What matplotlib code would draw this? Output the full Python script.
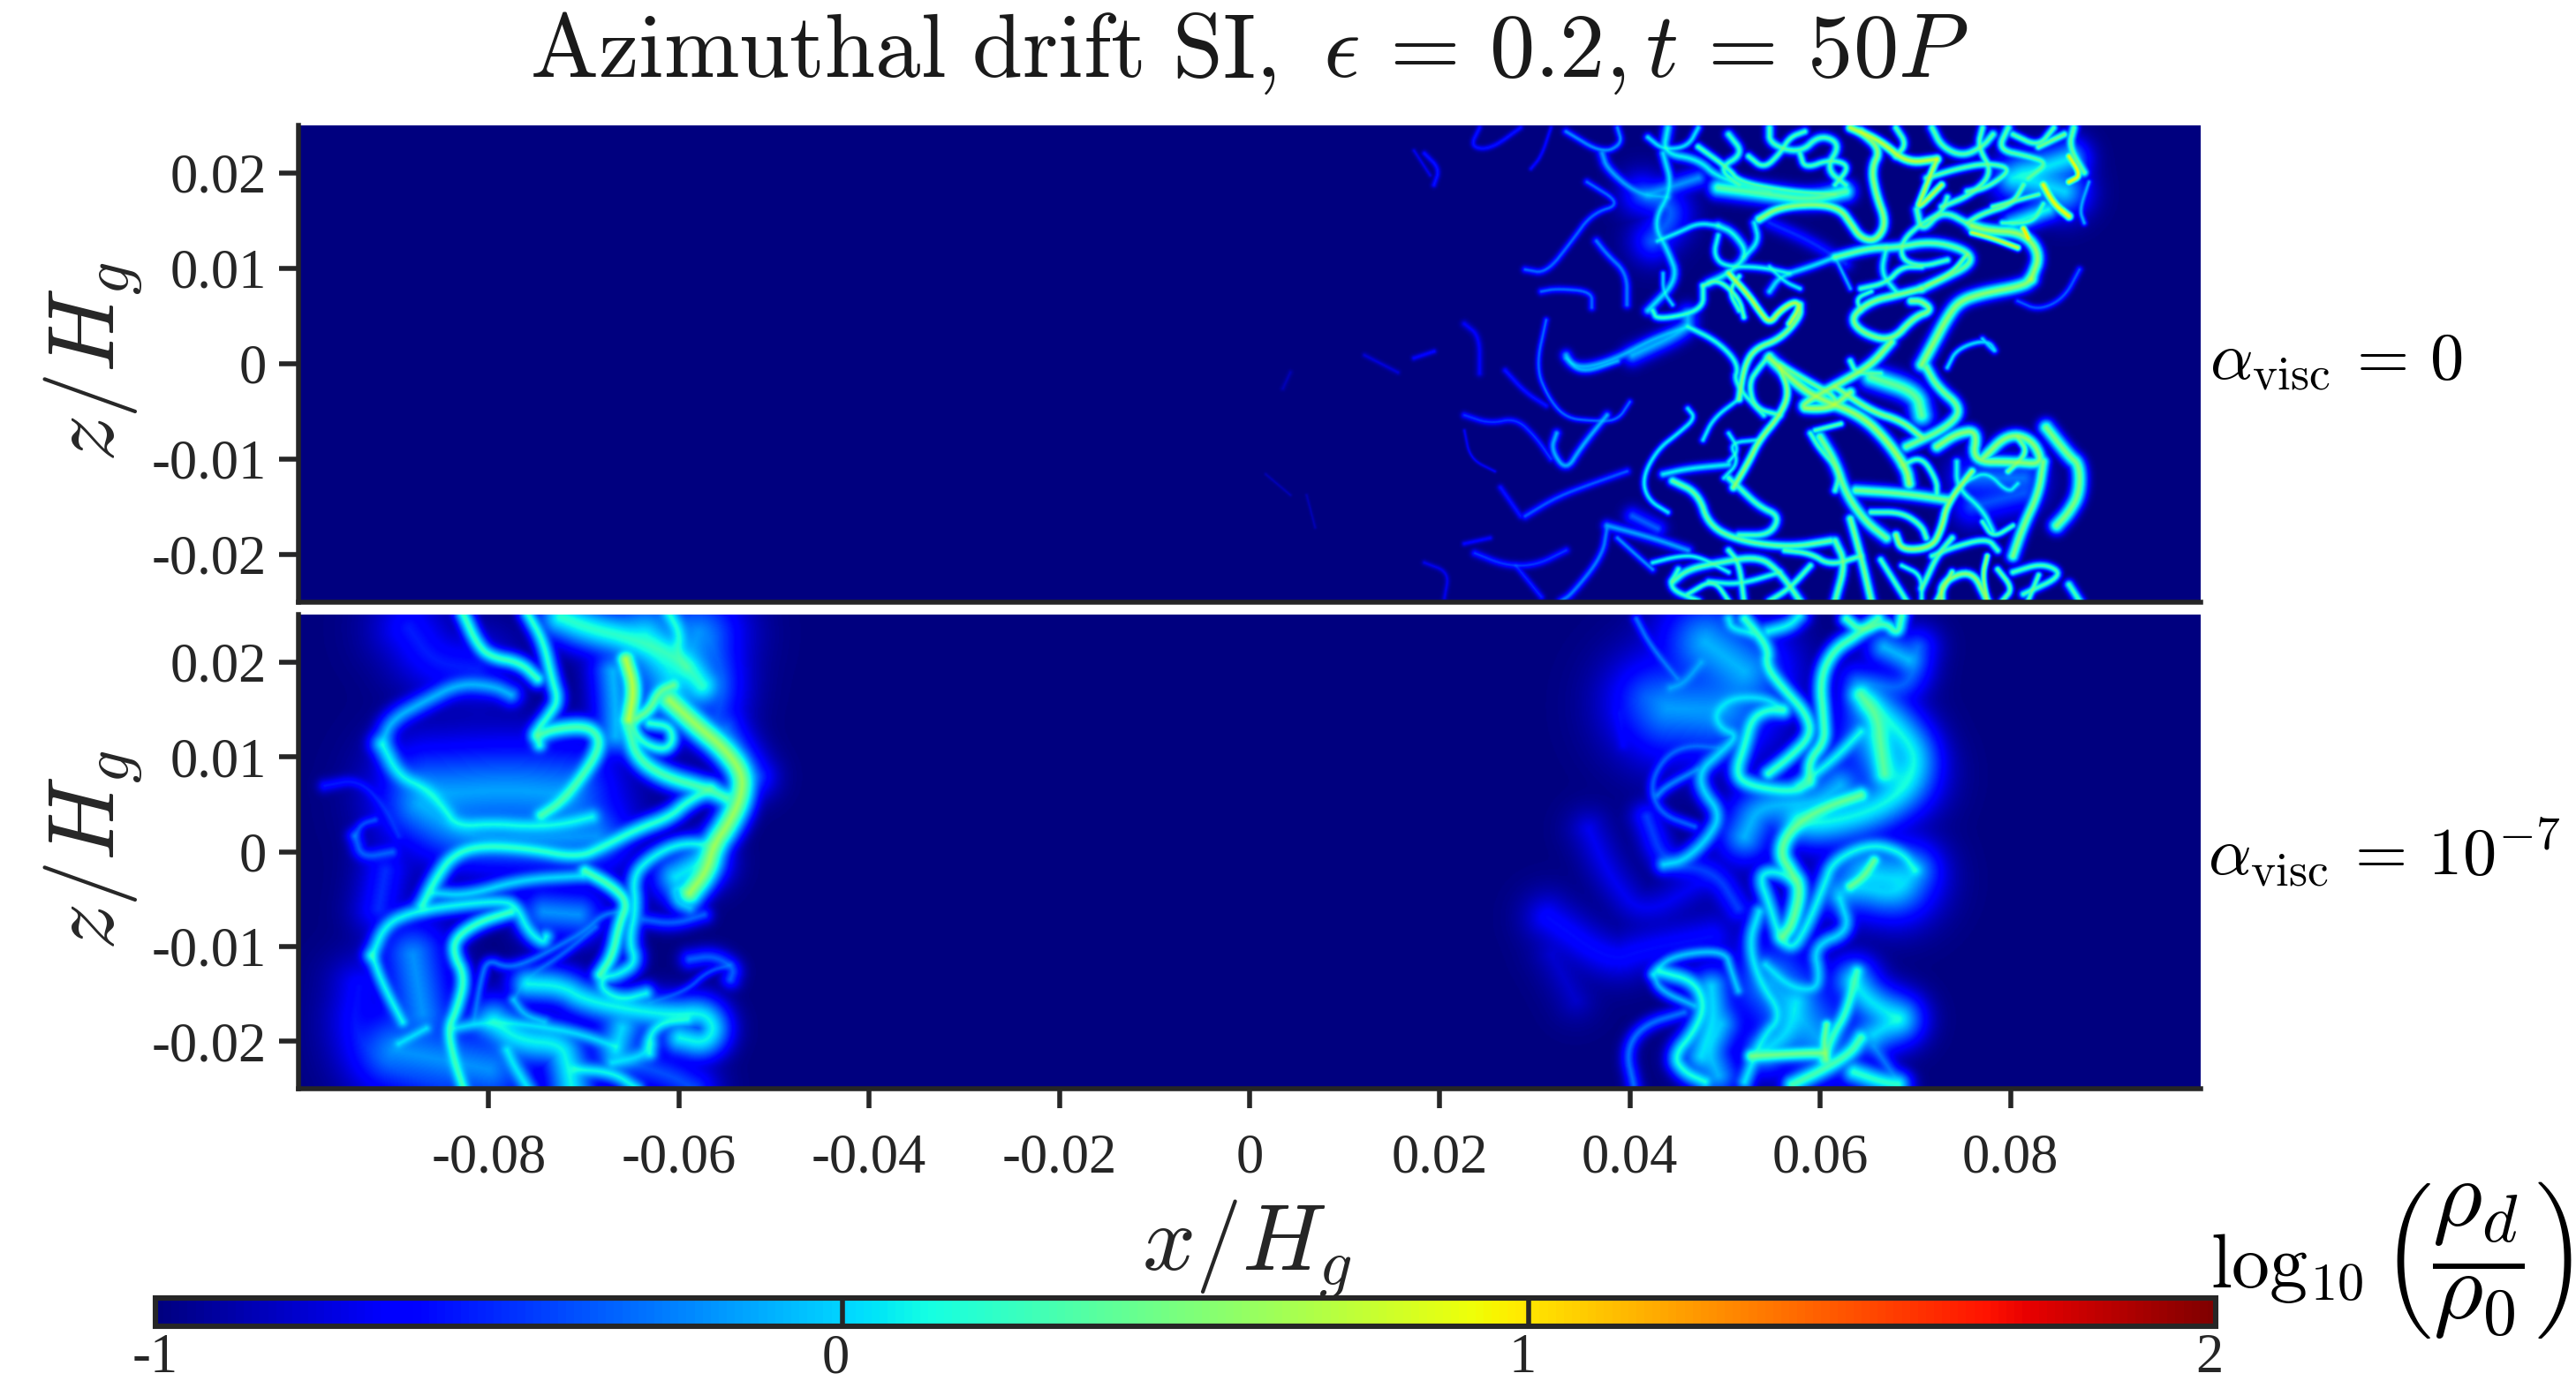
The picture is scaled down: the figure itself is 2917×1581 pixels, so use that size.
# -*- coding: utf-8 -*-
"""Azimuthal drift SI density slices, strands hand traced off the picture"""
import numpy as np
import matplotlib
matplotlib.use('Agg')
import matplotlib.pyplot as plt
from matplotlib.transforms import ScaledTranslation

plt.rcParams['font.family'] = ['Liberation Serif', 'DejaVu Serif']
plt.rcParams['mathtext.fontset'] = 'cm'

DARK = '#262626'

#===============Data============================
X_TICKS = [-0.08, -0.06, -0.04, -0.02, 0, 0.02, 0.04, 0.06, 0.08]
X_LABELS = ['-0.08', '-0.06', '-0.04', '-0.02', '0', '0.02', '0.04', '0.06', '0.08']
Z_TICKS = [-0.02, -0.01, 0, 0.01, 0.02]
Z_LABELS = ['-0.02', '-0.01', '0', '0.01', '0.02']
CB_TICKS = [-1, 0, 1, 2]
CB_LABELS = ['-1', '0', '1', '2']

# every strand: peak log10(rho_d/rho_0), thickness, then x,z pairs (all in 1e-3 H_g)
TOP_STRANDS = [
    (.55,.55,[82.2,8.9,81.4,8.2,77.1,7.4,74.7,6.6,73.4,4.9,71.8,1.9,70.7,-.1]),
    (.6,.5,[82.2,8.9,83.2,11.5,81.4,13.8,77.6,14,76,14.5]),
    (1.05,.25,[81.4,14.2,81.9,13.2]),
    (.8,.25,[80.8,12.2,78.2,13.2,76,13.8]),
    (.5,.4,[70.7,7.9,68,7.2,65.4,6.6,63.2,4.9,64.3,3.3,67.5,2.3,69.9,4.9,71.8,5.6,70.7,6.6,69.6,6.6]),
    (.55,.45,[67.5,2.3,65.4,-.1,62.7,-1.7,59,-3.7,57.9,-4.7,61.1,-4.7,63.2,-3]),
    (.6,.5,[54.7,.6,57.9,-2.4,60,-3.7,64.3,-5.4,67,-8,69.1,-11,69.4,-12.6]),
    (.55,.5,[72.3,-8.7,74.4,-7.3,76.6,-7,76,-10.3,80.3,-10.3,83.5,-10.6,82.4,-8,79.8,-7.3,77.1,-10]),
    (.5,.6,[83.8,-6.7,86.2,-9.7,87.3,-10.6,87.3,-13.6,86.2,-15.6,84.9,-17]),
    (.5,.5,[83.5,-10.3,83,-13.6,81.4,-17,80.3,-20.2]),
    (.15,.4,[74.4,-10.3,74.4,-13,77.1,-15.3,78.2,-17.6]),
    (.6,.35,[76,-11.3,73.4,-14.6,72.8,-17.3,71.8,-19.3,68.6,-19.6,68,-18]),
    (.45,.5,[63.8,-13.3,68.6,-13.6,73.4,-14.3]),
    (.45,.5,[60,-7.7,61.6,-10.3,62.7,-13.6,64.8,-16.6,67,-18.3]),
    (.45,.5,[69.1,-8.7,73.4,-6.7,75,-4.7,72.3,-2.4,71.2,-.4]),
    (.4,.9,[65.4,-1.4,70.2,-3,70.7,-5.4]),
    (.7,.3,[56.8,4.2,57.9,5.9,57.4,6.6,55.8,5.6,54.7,4.2,53.6,5.6,52.5,7.2,50.4,9.5]),
    (.5,.35,[57.9,6.2,57.9,4.9,55.8,2.6,53.1,1.6,52,-.4,51.5,-3.7]),
    (.55,.35,[55.8,-.4,56.8,-3,55.8,-5.4,53.6,-8,52.5,-10.3,50.9,-13]),
    (.25,.35,[47.7,8.2,47.7,5.6,42.9,4.6,42.4,5.6]),
    (.35,.3,[47.7,8.2,49.3,8.9,51.5,6.9,52,4.9]),
    (.55,.4,[53.6,15.2,55.8,16.5,60,16.8,62.2,16.2,63.2,14.8,64.3,13.2,65.9,12.9,67,14.8,65.9,17.8,65.4,20.5,66.4,22.5,64.3,24.4]),
    (.75,.35,[63.2,24.8,66.4,23.4,69.1,21.1,72.3,21.5]),
    (.7,.3,[72.3,21.5,70.7,17.5,70.2,16.2,72.8,18.8]),
    (.35,.4,[70.2,16.2,70.7,13.8,72.8,16.2,76,14.5]),
    (.35,.8,[49.3,18.5,54.7,17.8,59,17.2,62.7,18.1]),
    (.95,.25,[86.2,21.8,87.5,19.8,86.2,19.1]),
    (.95,.3,[83.5,18.8,84.6,16.8,86.2,15.5]),
    (.4,.4,[86.7,24.8,86.2,22.8,87.8,20.1]),
    (.45,.35,[83,22.8,85.7,24.1]),
    (.35,.4,[71.8,24.8,72.8,22.8,75,21.8,77.1,22.8,78.2,24.1]),
    (.35,.4,[79.8,24.8,78.7,22.5,81.9,21.8,84,21.1,81.9,19.5]),
    (.35,.35,[77.1,24.8,76.6,22.8,78.2,20.1,76,17.8,72.8,16.5]),
    (.3,.4,[54.7,24.8,54.7,23.1,57.9,22.1,60,24.1,62.2,23.1,60.6,20.5,62.7,18.8]),
    (.25,.4,[50.4,24.1,52,22.1,49.3,20.5,51.5,18.8]),
    (.1,.5,[44,24.8,43.5,22.1,47.2,21.5,49.3,19.5,54.7,18.1]),
    (.05,.45,[43.5,22.1,44.5,18.5,42.4,14.8,44,11.9,45.1,8.9,41.9,5.6]),
    (.15,.45,[49.3,14.5,50.9,13.8,52.5,11.5,50.4,9.5,48.3,8.5]),
    (.1,.4,[53.1,14.8,53.6,12.9,52,11.2]),
    (.4,.45,[61.6,11.2,65.4,12.2,68,12.2,71.8,12.9,75.5,11.9,76,10.5,72.8,8.9,70.7,7.9]),
    (-.1,.3,[61.6,11.2,63.2,7.9]),
    (.15,.4,[67,12.2,66.4,9.5,68,7.6]),
    (.05,.4,[61.6,11.2,59,10.2,55.8,9.2,54.7,7.6]),
    (-.1,.5,[46.1,3.9,42.4,2.6,38.7,.6,35.5,-.4,33.9,-.1,33.3,.9]),
    (.2,.35,[46.1,3.9,49.3,2.3,51.5,-.1,50.9,-2,54.1,-5.4]),
    (.1,.3,[46.1,-4.7,46.9,-5.7,45.1,-7.3,42.9,-9,41.3,-12,41.9,-14.3,44,-15.6]),
    (.1,.3,[51.5,-3.7,48.8,-5.7,47.7,-8]),
    (.4,.4,[44.5,-12.3,47.2,-13.6,48.3,-17,51.5,-18.6,56.8,-19.3,61.1,-18.6]),
    (.1,.4,[43.5,-11.6,46.1,-11,50.4,-10.6]),
    (.3,.4,[50.4,-12,51.5,-13,53.6,-15,55.8,-16,54.7,-18,51.5,-18]),
    (.1,.3,[53.6,-8,50.4,-8.3,51.5,-10.3,49.9,-12]),
    (.35,.4,[44.5,-22.9,46.1,-21.6,49.3,-20.9,53.6,-20.2,55.8,-21.9,57.9,-24.9]),
    (.3,.35,[50.4,-19.6,51.5,-20.9,52,-24.9]),
    (.4,.4,[61.6,-18.6,62.7,-20.9,61.6,-24.9]),
    (.45,.4,[65.4,-24.9,64.3,-20.2,63.2,-16.3]),
    (.25,.35,[45.1,-21.6,44,-23.6,47.2,-24.9]),
    (.55,.35,[72.8,-24.9,72.8,-22.9,76,-21.6,77.6,-24.9]),
    (.35,.35,[73.9,-18.3,72.3,-20.2,71.2,-22.6,70.7,-23.6]),
    (.3,.35,[78.7,-19.6,77.6,-18.3,73.9,-19.3,71.8,-20.2]),
    (.3,.35,[80.3,-21.9,83.5,-20.9,85.7,-22.2,81.4,-24.2]),
    (.3,.4,[87.3,-24.9,86.2,-23.2]),
    (.3,.35,[66.4,-20.6,69.1,-24.9]),
    (.3,.35,[59,-21.2,56.8,-23.6,54.7,-24.9]),
    (.2,.35,[48.3,-22.9,51.5,-23.2,55.8,-21.9]),
    (.6,.25,[77.6,-20.2,77.1,-22.2,77.6,-24.9]),
    (-.55,.3,[19.4,18.8,20,20.5,18.4,22.1]),
    (-.55,.3,[24.2,24.8,23.2,22.8,25.3,22.5,28.5,24.8]),
    (-.6,.25,[31.7,24.8,30.7,21.8,29.6,20.5]),
    (-.2,.35,[33.3,24.4,37.1,22.1,39.2,23.1,38.7,24.8]),
    (-.15,.5,[37.1,22.1,37.6,20.5,40.8,17.8,44,17.5]),
    (-.3,.35,[35.5,19.1,39.2,16.8,36,15.8,33.9,12.9,31.2,9.5,29,9.9]),
    (-.25,.4,[36.5,12.9,37.6,11.5,39.7,9.5,39.7,6.2]),
    (-.3,.35,[30.7,7.6,32.3,7.9,36,7.6,36,5.9]),
    (-.3,.3,[31.2,4.6,30.1,-.4,31.5,-3.7,33.3,-5.7,36,-6,38.7,-6,40,-4]),
    (-.1,.4,[33.3,.6,34.9,-1,38.7,.3]),
    (-.1,.4,[32.3,-7.3,31.7,-9,33.3,-11.3,34.9,-8.7,37.6,-5.4]),
    (-.45,.35,[22.6,-5.4,25.3,-6.3,28,-5.7,30.1,-7.7,31.7,-10]),
    (-.65,.4,[22.6,4.2,24.2,2.9,24.2,-1]),
    (-.55,.35,[26.9,-.7,29,-3,31.2,-4.4]),
    (-.6,.3,[17.3,.6,19.4,1.3]),
    (-.65,.2,[22.6,-7,23.2,-10,25.8,-11.3]),
    (-.35,.4,[29,-16,32.3,-14,36,-12.6,39.7,-11.3]),
    (-.55,.35,[26.4,-13,28.5,-16]),
    (-.45,.4,[23.7,-19.9,26.9,-21.2,30.1,-21.2,33.3,-19.6]),
    (-.6,.3,[22.6,-18.9,25.3,-18.3]),
    (-.25,.4,[37.6,-17.3,37.1,-20.2,33.9,-24.2,32.8,-24.9]),
    (-.15,.5,[37.6,-17,42.4,-18.3,46.1,-19.6]),
    (-.5,.35,[28,-21.2,30.7,-24.5]),
    (-.7,.3,[18.4,-20.9,21,-21.9,20.5,-24.6]),
    (-.35,.35,[80.8,6.6,83,5.6,85.7,6.9,87.3,9.9]),
    (.05,.3,[77.1,2.6,78.7,1,77.6,2.6,74.4,1.6,73.4,-.4]),
    (-.1,.3,[88.3,19.1,87.3,16.2,87.8,14.8]),
    (-.35,1.5,[41.3,17.8,45.1,16.2,42.4,12.9]),
    (-.5,.8,[54.7,14.8,59,12.9,62.7,10.5]),
    (-.35,.9,[40.3,-16,42.9,-17.3]),
    (0,1.5,[81.4,19.5,85.7,18.1]),
    (-.3,1.5,[76,-12,81.4,-12]),
    (.1,1,[84,16.2,80.3,14.8]),
    (-.85,.2,[1.7,-11.6,4.3,-13.8]),
    (-.75,.3,[15.6,-.9,12.1,.9]),
    (-.7,.25,[17.3,22.4,19,19.8]),
    (-.85,.3,[4.3,-.9,3.5,-2.6]),
    (-.85,.2,[6,-13.8,6.9,-17.2]),
    # denser web of finer strands
    (.05,.35,[47.2,24.8,46.1,22.8,43.5,22.5,41.9,23.8]),
    (.3,.35,[47.2,22.8,50.4,20.5,51.5,19.1,56.8,18.1,61.6,17.8]),
    (.3,.35,[52.5,21.8,54.1,20.5,55.8,22.1,56.8,23.8,58.4,24.4]),
    (.3,.35,[57.9,22.1,58.4,20.5,61.1,21.5,63.2,20.8,61.6,18.8]),
    (.35,.35,[68,24.8,69.1,23.1,68,21.8]),
    (.35,.35,[71.2,19.5,74.4,20.5,77.6,21.1,80.3,20.5,77.6,18.5,75.5,18.1]),
    (.35,.35,[80.3,24.1,83,22.8,84.6,24.8]),
    (.4,.35,[81.4,18.8,80.3,16.8,77.1,15.8,75.5,14.8]),
    (.4,.3,[83,17.8,80.8,17.2,78.2,16.5]),
    (.3,.35,[83.5,16.8,82.4,14.8,79.2,14.8]),
    (.3,.35,[73.4,17.5,72.8,15.8,70.7,14.8,68.6,12.9,68.6,10.9,70.7,10.2,73.4,10.9]),
    (.45,.3,[75.5,11.5,73.9,9.5,71.2,8.2]),
    (.3,.35,[64.3,7.9,67,8.5,68.6,10.2,70.7,10.2]),
    (.25,.3,[64.3,5.6,63.8,6.9,65.4,7.6]),
    (.1,.35,[49.3,14.5,47.2,14.8,45.1,13.8,42.9,12.9]),
    (.15,.35,[49.3,13.5,48.8,11.5,49.9,10.2,53.6,10.2,56.8,9.5]),
    (.1,.3,[54.7,10.2,56.3,8.6,57.9,7.9]),
    (.3,.3,[51.5,9.2,50.4,7.6,51.5,5.6]),
    (0,.3,[43.5,9.5,43.5,7.6,44.5,6.2]),
    (.3,.35,[54.7,.9,53.6,-.4,52.5,-2,53.1,-4.7,55.8,-5.4]),
    (.4,.4,[55.8,-.1,59,-2,61.6,-3.4,61.6,-4.7,58.4,-4.7]),
    (.5,.4,[61.6,-2.4,65.4,-5,68.6,-6,70.7,-7.7]),
    (.3,.35,[63.2,.3,63.8,-1,66.4,-1]),
    (.3,.35,[59,-7.3,60,-9,62.2,-11.3,61.6,-13.3]),
    (.35,.3,[62.2,-6.3,59.5,-7]),
    (.1,.3,[50.4,-7.3,51.5,-9,50.4,-10.3]),
    (.3,.35,[68.6,-10.7,70.7,-9.7,72.3,-12.3,72.3,-13.6]),
    (.35,.35,[65.4,-15.6,68.6,-15.6,70.7,-17,71.2,-18.3]),
    (.3,.3,[77.1,-16.6,78.2,-18.3,80.3,-17]),
    (.1,.35,[75.5,-12.3,77.6,-11.3,79.8,-13.6,80.8,-12.6]),
    (.45,.35,[80.8,-7.7,81.9,-9.3,79.8,-11.3]),
    (.35,.35,[64.3,-20.2,61.1,-21.2,59,-19.9,56.3,-19.6]),
    (.2,.3,[68.6,-21.2,70.7,-22.2,70.7,-24.9]),
    (.5,.3,[73.9,-21.9,72.3,-24.9]),
    (.4,.3,[78.7,-21.6,80.3,-23.6,79.2,-24.9]),
    (.35,.3,[81.9,-24.9,83,-22.2]),
    (.15,.3,[42.4,-20.9,45.1,-20.2,47.2,-20.2,50.4,-21.9]),
    (.3,.3,[46.1,-24.2,48.8,-22.6,50.4,-24.9]),
    (-.2,.35,[38.7,-18.3,40.8,-20.2,42.4,-21.6]),
    (-.2,1,[41.9,17.8,47.2,19.5]),
    (.05,1.2,[80.3,19.5,86.2,21.5]),
    (-.4,1.4,[76,-15,81.4,-13.6]),
    (-.1,.9,[46.1,5.2,46.1,3.6,40.3,.9]),
]

BOTTOM_LEFT_STRANDS = [
    (.25,.7,[-82.7,25,-81.3,21.9,-79.9,20.5,-76.7,19.9,-74.9,18.2]),
    (.2,.7,[-75.9,25,-74.3,22.2,-73.4,18.2,-72.7,15.9,-73.8,14.2,-75,12.7,-74.7,11.2]),
    (.2,1.4,[-72.4,24.7,-69.5,23.5,-65.3,22.5,-61.7,21.2,-58.9,19.2,-57.6,17.5]),
    (.15,1,[-61,25,-59.9,22.9,-60.3,20.9,-59.2,19.5]),
    (.4,.7,[-60.6,17.5,-62.1,16.9,-63.1,14.9,-64.5,14]),
    (.7,.7,[-65.6,20.2,-64.7,17.2,-65.3,13.9]),
    (.2,.7,[-65.3,13.9,-64.2,11.6,-61.7,10.6,-60.6,11.6,-61,13.2,-63.1,13.5]),
    (.3,.9,[-65.3,12.9,-64.5,9.9,-61.7,7.9,-57.1,6.6,-55,5.6]),
    (.6,1,[-61,15.9,-58.1,13.2,-55.3,10.9,-53.3,8.2,-53.5,5.6,-54.8,2.9,-56.4,.6,-57.1,-2.1,-58.9,-4.4]),
    (-.1,1,[-91.2,11.6,-90.2,13.9,-86.6,15.9,-83.1,17.7,-79.5,17.4,-77.7,16.5]),
    (.1,1,[-91.2,11.2,-89.5,7.9,-86.6,6.6,-84.8,4.6,-83.4,2.6,-79.5,2.9,-75.9,2.6,-72.4,2.8,-69.2,3.6]),
    (.3,.8,[-74.5,3.8,-72.4,5.2,-70.2,7.9,-68.5,10.6,-68.5,12.2,-69.9,13.2,-73.1,12.9,-74.9,12.2]),
    (.2,.8,[-56.7,6.6,-59.2,5.2,-61,3.6,-64.5,2.3,-67.8,.6,-70.6,-.7,-75.9,.3,-81,.6,-83.8,-.4,-85.5,-2.7,-87,-5.7]),
    (.1,.8,[-56.4,.6,-59.9,.9,-63.1,-.7,-64.9,-2.7,-64.5,-6,-65.3,-9.4,-64.5,-11.7,-66.3,-13,-68.1,-13.3,-68.1,-14.7,-66,-15.7,-63.5,-15]),
    (.3,.7,[-69.9,-2.1,-67,-3.7,-65.4,-5.4,-66.3,-7.7,-67,-11,-68.3,-13]),
    (0,.8,[-85.9,-4.4,-82.4,-4.7,-76.7,-3,-70.2,-2.6]),
    (.1,.8,[-92.3,-11,-90.9,-7.7,-88,-6.4,-83.8,-5.7,-78.4,-5.2,-77,-6,-75.9,-8.4,-74.3,-9.7,-74,-9]),
    (.1,.7,[-92.3,-11,-91.2,-14,-89.1,-18]),
    (.25,.7,[-77.7,-6.4,-81,-7.4,-83.4,-9,-83.8,-10.7,-82.5,-13.3,-83.4,-16.7,-84.3,-18.7,-83.8,-21.6,-82.7,-25]),
    (-.3,.6,[-81.6,-18,-80.9,-13.7,-80.2,-11.4,-78.1,-12.3,-75.9,-11.7,-72.7,-10,-69.9,-8.4,-68.1,-6.7,-66.3,-6.4]),
    (-.35,.6,[-77.4,-15.7,-76,-13.3,-72.4,-11,-68.8,-8]),
    (-.1,.7,[-77.4,-15.7,-76.3,-17.3,-74.2,-18]),
    (.1,1.2,[-75.9,-14,-72.4,-14.2,-69.9,-15.7,-65.3,-16.7,-60.6,-17.3,-57.4,-17,-56.2,-18.7,-57.4,-20.3,-59.9,-19.7]),
    (0,.8,[-83.8,-18.7,-80.2,-18,-75.9,-18.3,-70.6,-19.2,-66.7,-20.6]),
    (.1,.8,[-63.1,-21.3,-63.1,-19.3,-61.7,-18,-59.2,-17.7]),
    (0,1,[-67,-22.3,-63.8,-21.6,-63.1,-20.3]),
    (.1,1.5,[-79.5,-18,-76.7,-20,-72.4,-20.3,-71.7,-22.6,-71.3,-25]),
    (.05,.9,[-78.1,-21,-77.4,-22.6,-75.9,-25]),
    (.1,.8,[-71,-23,-67,-23.3,-64.5,-25]),
    (0,.7,[-89.5,-20.3,-86.6,-18.7]),
    (-.35,.9,[-58.9,-11.4,-56.4,-11,-54.2,-12.3,-54.6,-13.5]),
    (-.4,.5,[-54.6,-12,-57.1,-12.7,-59.2,-14.7,-63.1,-16]),
    (-.35,.8,[-63.8,-7.2,-60.6,-7.7,-57.4,-6.7]),
    (-.1,.9,[-58.9,-4.4,-60.6,-3.7,-60.3,-5.4,-58.9,-6]),
    (-.4,.6,[-94.1,1.6,-93.4,2.9,-92,3.3]),
    (-.35,.8,[-94.1,1.6,-93.4,-.7,-90.2,-.1]),
    (-.55,.7,[-97.3,6.9,-93.7,7.6,-90.9,4.6,-89.5,1.6]),
    (-.55,3,[-88.4,23.5,-85.9,19.9,-81.3,19.2]),
    (-.2,2.5,[-87.3,4.9,-83.1,1.6,-76,1.3,-68.8,1.6]),
    (-.15,3.5,[-86,6,-78,6.5,-72,6]),
    (-.35,1.5,[-55,12.9,-52.1,7.9]),
    (-.45,2,[-56.7,22.2,-55,17.9,-56,14.2]),
    (-.2,3,[-60,17,-58,23]),
    (-.6,2.5,[-93.7,-14.3,-94.4,-19.3,-90.2,-23,-85.2,-24.6]),
    (-.2,3,[-90,-21,-80,-23]),
    (-.2,2.5,[-88,-11,-87,-17]),
    (-.4,1.8,[-65.3,-22.3,-61,-23.6,-58.5,-25]),
    (-.5,2,[-90.9,-2.1,-91.6,-6]),
    (-.1,1.5,[-67,18.9,-66.7,15.5,-66.7,12.2]),
    (0,2.5,[-63.5,22.8,-61,18.9]),
    (.05,1.5,[-60.3,-2.7,-57.4,-1]),
    (-.2,1.8,[-74.2,-6.4,-70.6,-6.7]),
    (0,1.5,[-66,-18.7,-66.7,-21]),
]

BOTTOM_RIGHT_STRANDS = [
    (-.3,.5,[40.7,24.5,42.1,21.8,45,18.2]),
    (-.2,.8,[44.3,17.2,45.7,17.7,47.5,19.9]),
    (.25,.7,[52.1,24.5,54.6,21.5,54.3,19.5,56.1,17.2,58.6,14.5,59.1,12.2,56.8,9.9,54.6,8.2]),
    (.3,.7,[66.1,24.5,63.9,22.8,61.4,21.2,60,18.2,60.4,13.9,60.5,11.6,58.9,9.6,58.9,7.6]),
    (.05,.7,[50.4,24.5,50.7,23.5,52.8,23]),
    (.1,.8,[54.6,23.2,56.8,23.8,57.8,24.8]),
    (.3,.6,[62.8,24.5,64.3,23.2,66.8,24.2,68.2,22.8,68.6,24.8]),
    (.35,1.1,[64.3,16.5,66.1,14.2,66.4,10.9,66.8,8.2]),
    (.1,1.6,[65.3,15.5,68.9,12.2,70.2,9.6,68.9,6.6,65.7,4.3,60.4,2.9,57.8,3.3]),
    (0,2.5,[66,12,68,8]),
    (0,.8,[56.1,14.9,54.3,16.2,50.7,16.2,48.9,14.5,49.6,12.9,51.4,12.2,49.3,10.2,47.5,8.6,47.5,6.6,49.6,3.9,48.2,1.3,45.7,-1,43.6,-1.4]),
    (.2,.8,[56.1,14.9,54.3,14.9,52.8,13.9,52.1,11.2,51.1,8.2,52.5,6.9,57.1,6.2,58.9,7.2]),
    (.1,.8,[64.3,12.6,61.4,9.6,57.8,6.9]),
    (-.35,.6,[49.3,10.9,46.1,11.2,43.6,9.9,42.1,6.9,43.2,3.9,46.8,2.6]),
    (-.25,.6,[47.1,8.6,43.9,6.9,42.9,5.9]),
    (.4,.8,[64.3,5.9,60.4,4.6,57.1,2.6,55.7,-.1,57.1,-2.4,58,-4,57.1,-7.7,56.1,-9]),
    (.1,.8,[70,-2,68.6,-.1,65.3,.8,61.4,-1,60.4,-3.7,58.6,-8,57.1,-10.4,55.7,-9,54.6,-5.4,53.6,-2.7,55,-2,57.5,-3]),
    (-.1,1.6,[70,-2,67.8,-4.7,64.3,-3.7,62.1,-4.4]),
    (0,2.5,[65,-2.5,68,-3]),
    (.4,.6,[65.7,-1,64.6,-2.7,63.2,-3.7]),
    (.05,.8,[53.6,-6.4,52.5,-9.7,53.6,-13.7,56.1,-17.3,53.9,-19.7,52.1,-24.3]),
    (0,.8,[62.1,-5,63.2,-8.4,59.3,-10,60,-13.3,59.3,-14.7,56.8,-14.3,54.3,-12]),
    (.25,.7,[63.9,-12.7,62.8,-17,61.4,-19.3,60.4,-22]),
    (.4,.5,[60.7,-18.3,60.4,-20.3,60.7,-22]),
    (.45,.6,[52.8,-21.6,58.6,-21.3,60.4,-21.3]),
    (.3,.8,[64.3,-19.7,63.2,-21.3,60.4,-23,57.1,-24.6]),
    (-.05,.6,[42.5,-13,44.3,-11,50,-10.4,50.7,-12.7,51.4,-14.7]),
    (.15,.8,[43.2,-12.7,46.8,-13.7,47.9,-16.3,46.8,-19,44.6,-21.6,45.7,-23.3,47.9,-24.3]),
    (-.1,.6,[42.5,-13,43.2,-14.7,46.8,-16.3]),
    (0,1.3,[48.6,-14.3,48.9,-17.7,47.5,-21.6]),
    (-.3,.7,[45.7,-17,41.4,-18.3,39.6,-21,40.4,-24.6]),
    (-.45,3,[41.8,16.2,45.4,14.9,48.2,13.9]),
    (-.2,3.5,[44,15,50,15]),
    (-.1,3,[48,22,52,19]),
    (-.35,1.5,[70.3,21.5,69.3,16.9,63.9,17.9]),
    (.05,1.5,[68.2,-17.7,65,-15.7,63.6,-13.7]),
    (0,1.5,[68.2,-17.7,65.7,-19.3]),
    (-.15,3,[55,-14,60,-20]),
    (-.6,2,[31.4,-7,37.9,-11.7,41.4,-10.4,48.6,-9]),
    (-.7,1.8,[35.7,2.3,37.9,-2.7,41.4,-7,47.9,-3]),
    (-.8,2,[31.8,-11,34.3,-15.7]),
    (-.45,1.2,[41.8,3.6,43.6,-1.4,48.9,-2,51.4,-6]),
    (-.1,1.5,[49.3,-23.6,48.2,-21,49.6,-18.3]),
    (.2,1,[63.6,-23.3,66.4,-24.3,68.2,-24.6]),
    (-.3,.9,[65.7,-20.6,68.2,-24.3]),
    (0,1.5,[57.5,-16,56.8,-19,54.3,-21]),
    (-.1,1.8,[62.1,6.9,59.3,4.9,53.6,4.9,52.1,1.6]),
    (-.7,.9,[38.9,14.5,39.3,11.2]),
    (-.1,1.3,[66.8,21.5,69.3,20.2]),
]

#===============Field============================
def corner_cut(pts, rounds=3):
    for _ in range(rounds):
        q = 0.75 * pts[:-1] + 0.25 * pts[1:]
        r = 0.25 * pts[:-1] + 0.75 * pts[1:]
        mid = np.empty((2 * len(q), 2))
        mid[0::2] = q
        mid[1::2] = r
        pts = np.vstack([pts[:1], mid, pts[-1:]])
    return pts


def build_field(strands, thin=0.7, nx=2000, nz=500):
    # strands join in quadrature so crossings stay close to their own peak
    xs = np.linspace(-100, 100, nx)
    zs = np.linspace(-25, 25, nz)
    rho2 = np.zeros((nz, nx))
    for peak, thick, coords in strands:
        if thick < 1.2:
            thick = thick * thin
        pts = corner_cut(np.array(coords, dtype=float).reshape(-1, 2))
        reach = 6 * thick
        i0, i1 = np.searchsorted(xs, [pts[:, 0].min() - reach, pts[:, 0].max() + reach])
        j0, j1 = np.searchsorted(zs, [pts[:, 1].min() - reach, pts[:, 1].max() + reach])
        gx, gz = np.meshgrid(xs[i0:i1], zs[j0:j1])
        dist = np.full(gx.shape, np.inf)
        for a, b in zip(pts[:-1], pts[1:]):
            seg = b - a
            t = ((gx - a[0]) * seg[0] + (gz - a[1]) * seg[1]) / max((seg ** 2).sum(), 1e-9)
            t = np.clip(t, 0, 1)
            dist = np.minimum(dist, np.hypot(gx - a[0] - t * seg[0], gz - a[1] - t * seg[1]))
        rho2[j0:j1, i0:i1] += ((10.0 ** peak - 0.1) * np.exp(-(dist / thick) ** 1.3)) ** 2
    return np.log10(0.1 + np.sqrt(rho2))


field_top = build_field(TOP_STRANDS)
field_bot = build_field(BOTTOM_LEFT_STRANDS + BOTTOM_RIGHT_STRANDS, thin=0.8)

#===============Figure============================
W, H = 2917, 1581
fig = plt.figure(figsize=(W / 200, H / 200), dpi=200)


def px_axes(left, top, right, bottom):
    return fig.add_axes([left / W, 1 - bottom / H, (right - left) / W, (bottom - top) / H])


ax1 = px_axes(338, 142, 2492, 682)
ax2 = px_axes(338, 696, 2492, 1233)
cax = px_axes(176, 1470, 2509, 1502)

for ax, fld in ((ax1, field_top), (ax2, field_bot)):
    im = ax.imshow(fld, origin='lower', cmap='jet', vmin=-1, vmax=2, aspect='auto',
                   extent=[-0.1, 0.1, -0.025, 0.025], interpolation='bilinear')
    ax.set_xlim(-0.1, 0.1)
    ax.set_ylim(-0.025, 0.025)
    ax.spines['top'].set_visible(False)
    ax.spines['right'].set_visible(False)
    for s in ('left', 'bottom'):
        ax.spines[s].set_linewidth(2.0)
        ax.spines[s].set_color(DARK)
    ax.set_yticks(Z_TICKS)
    ax.set_yticklabels(Z_LABELS)
    ax.tick_params(axis='both', length=8, width=2.0, color=DARK, labelcolor=DARK,
                   labelsize=22.5, pad=5)
ax1.set_xticks([])
ax2.set_xticks(X_TICKS)
ax2.set_xticklabels(X_LABELS)
ax2.tick_params(axis='x', pad=10)

cb = fig.colorbar(im, cax=cax, orientation='horizontal', ticks=CB_TICKS)
cb.ax.set_xticklabels(CB_LABELS)
cb.ax.tick_params(axis='x', direction='in', length=11.5, width=2.0, color=DARK,
                  labelcolor=DARK, labelsize=22.5, pad=3)
cb.outline.set_linewidth(2.2)
cb.outline.set_edgecolor(DARK)
shift = ScaledTranslation(-7 / 200, 0, fig.dpi_scale_trans)
for lab in cb.ax.get_xticklabels()[1:]:
    lab.set_transform(lab.get_transform() + shift)

#===============Text============================
fig.text(1414 / W, 1 - 60 / H, r'$\mathrm{Azimuthal\ drift\ SI,}\ \epsilon\,=\,0.2,t\,=\,50P$',
         fontsize=37, ha='center', va='center', color='#1a1a1a')
fig.text(1412 / W, 1 - 1415 / H, r'$x/H_g$', fontsize=38, ha='center', va='center', color=DARK)
fig.text(106 / W, 1 - 410 / H, r'$z/H_g$', fontsize=38, rotation=90, ha='center', va='center', color=DARK)
fig.text(106 / W, 1 - 963 / H, r'$z/H_g$', fontsize=38, rotation=90, ha='center', va='center', color=DARK)
fig.text(2502 / W, 1 - 411 / H, r'$\alpha_{\mathrm{visc}}\,=\,0$', fontsize=27.5, ha='left', va='center')
fig.text(2500 / W, 1 - 965 / H, r'$\alpha_{\mathrm{visc}}\,=\,10^{-7}$', fontsize=27.5, ha='left', va='center')
fig.text(2503 / W, 1 - 1436 / H, r'$\log_{10}$', fontsize=31, ha='left', va='center')
fig.text(2696 / W, 1 - 1427 / H, r'$\left(\dfrac{\rho_d}{\rho_0}\right)$', fontsize=39,
         ha='left', va='center')

fig.savefig('out.png', dpi=200)
